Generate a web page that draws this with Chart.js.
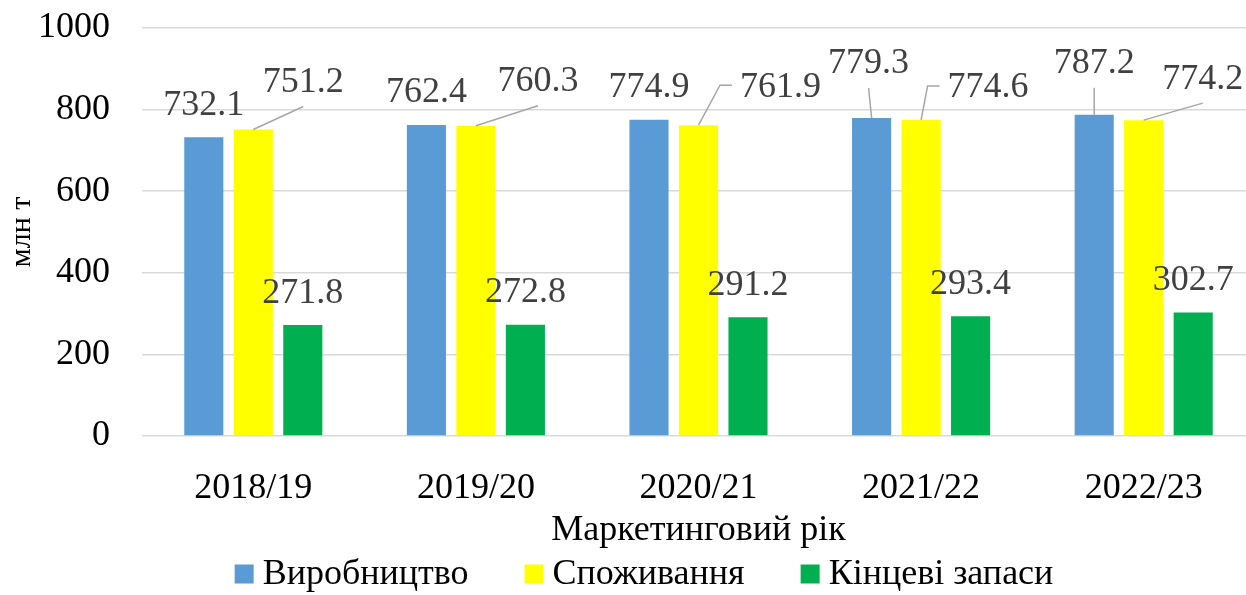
<!DOCTYPE html>
<html lang="uk">
<head>
<meta charset="utf-8">
<title>Маркетинговий рік</title>
<script src="https://cdn.jsdelivr.net/npm/chart.js@4.4.1/dist/chart.umd.min.js"></script>
<style>
    html, body { margin: 0; padding: 0; background: #fff; overflow: hidden; }
    #wrap { width: 1256px; height: 595px; position: relative; }
</style>
</head>
<body>
<div id="wrap"><canvas id="chart"></canvas></div>
<script>
const years = ['2018/19', '2019/20', '2020/21', '2021/22', '2022/23'];
const production = [732.1, 762.4, 774.9, 779.3, 787.2];
const consumption = [751.2, 760.3, 761.9, 774.6, 774.2];
const endStocks = [271.8, 272.8, 291.2, 293.4, 302.7];
const seriesNames = ['Виробництво', 'Споживання', 'Кінцеві запаси'];
const yTicks = [0, 200, 400, 600, 800, 1000];

const seriesColors = ['#5B9BD5', '#FFFF00', '#00B050'];
const serif = '"Liberation Serif", "Times New Roman", serif';

// labels that were dragged off the bar in the original, [dx, dy, leader type]
const labelNudge = {
    0: { 3: [-3, -54, 'line'], 4: [0, -51, 'line'] },
    1: { 0: [50, -47, 'line'], 1: [62, -44, 'line'], 2: [82, -38, 'elbow'], 3: [67, -32, 'elbow'], 4: [59, -41, 'line'] }
};

const dataLabels = {
    id: 'dataLabels',
    afterDatasetsDraw(chart) {
        const ctx = chart.ctx;
        ctx.save();
        ctx.font = '36px ' + serif;
        ctx.textAlign = 'center';
        ctx.textBaseline = 'middle';
        chart.data.datasets.forEach((ds, i) => {
            const meta = chart.getDatasetMeta(i);
            meta.data.forEach((bar, j) => {
                const text = ds.data[j].toFixed(1);
                const nudge = labelNudge[i] && labelNudge[i][j];
                let cx = bar.x;
                let cy = bar.y - 32;
                if (nudge) {
                    cx = bar.x + nudge[0];
                    cy = bar.y + nudge[1];
                    const half = ctx.measureText(text).width / 2;
                    ctx.strokeStyle = '#A6A6A6';
                    ctx.lineWidth = 1.5;
                    ctx.beginPath();
                    ctx.moveTo(bar.x, bar.y);
                    if (nudge[2] === 'elbow') {
                        ctx.lineTo(cx - half - 20, cy - 2);
                        ctx.lineTo(cx - half - 8, cy - 2);
                    } else {
                        ctx.lineTo(cx, cy + 24);
                    }
                    ctx.stroke();
                }
                ctx.fillStyle = '#404040';
                ctx.fillText(text, cx, cy);
            });
        });
        ctx.restore();
    }
};

const bottomLegend = {
    id: 'bottomLegend',
    afterDraw(chart) {
        const ctx = chart.ctx;
        ctx.save();
        ctx.font = '36px ' + serif;
        ctx.textBaseline = 'middle';
        ctx.textAlign = 'left';
        const box = 19, gap = 9, spacing = 56;
        const items = chart.data.datasets.map(ds => ({ label: ds.label, color: ds.backgroundColor, w: ctx.measureText(ds.label).width }));
        const total = items.reduce((s, it) => s + box + gap + it.w, 0) + spacing * (items.length - 1);
        let x = 644 - total / 2;
        const y = 574;
        items.forEach(it => {
            ctx.fillStyle = it.color;
            ctx.fillRect(x, y - box / 2, box, box);
            ctx.fillStyle = '#000';
            ctx.fillText(it.label, x + box + gap, y + 1);
            x += box + gap + it.w + spacing;
        });
        ctx.restore();
    }
};

const ctx = document.getElementById('chart').getContext('2d');
new Chart(ctx, {
    type: 'bar',
    data: {
        labels: years,
        datasets: [production, consumption, endStocks].map((values, i) => ({
            label: seriesNames[i],
            data: values,
            backgroundColor: seriesColors[i],
            borderWidth: 0,
            categoryPercentage: 0.667,
            barPercentage: 0.79
        }))
    },
    options: {
        responsive: true,
        maintainAspectRatio: false,
        animation: false,
        layout: { padding: { top: 28, left: 4, right: 1, bottom: 43 } },
        plugins: {
            legend: { display: false },
            tooltip: { enabled: false }
        },
        scales: {
            x: {
                grid: { display: false },
                border: { display: false },
                ticks: { color: '#000', font: { family: serif, size: 36 }, padding: 23, maxRotation: 0 },
                title: { display: true, text: 'Маркетинговий рік', color: '#000', font: { family: serif, size: 36 }, padding: 0 },
                afterFit(scale) { scale.height = 116; }
            },
            y: {
                min: 0,
                max: 1000,
                afterBuildTicks(scale) { scale.ticks = yTicks.map(v => ({ value: v })); },
                grid: { color: '#D9D9D9', lineWidth: 1.5, drawTicks: false },
                border: { display: false },
                ticks: { color: '#000', font: { family: serif, size: 36 }, padding: 32, callback: v => String(v) },
                title: { display: true, text: 'млн т', color: '#000', font: { family: serif, size: 30 }, padding: 0 },
                afterFit(scale) {
                    scale.width = 138;
                    scale.paddingTop = 0;
                    scale.paddingBottom = 0;
                }
            }
        }
    },
    plugins: [dataLabels, bottomLegend]
});
</script>
</body>
</html>
